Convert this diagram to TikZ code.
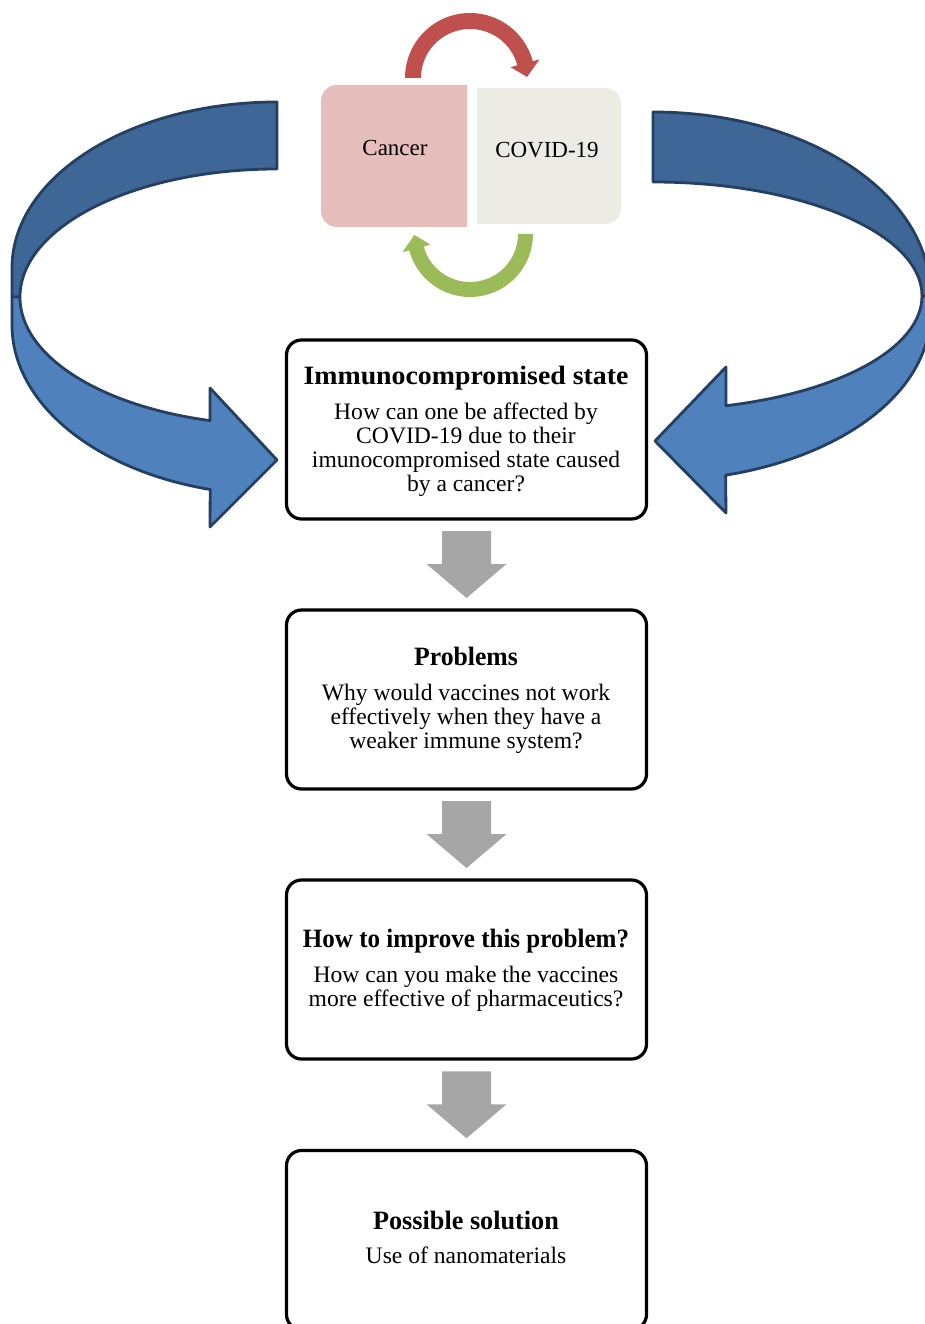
\documentclass[tikz,border=0pt]{standalone}
\usepackage{fontspec}
\usepackage{graphicx}
\setmainfont{Liberation Serif}
\usetikzlibrary{calc}
\definecolor{bluedark}{HTML}{3E6696}
\definecolor{bluelight}{HTML}{4F81BD}
\definecolor{blueline}{HTML}{243F60}
\definecolor{redarc}{HTML}{C0504D}
\definecolor{greenarc}{HTML}{9BBB59}
\definecolor{cancerfill}{HTML}{E6BEBC}
\definecolor{covidfill}{HTML}{ECECE4}
\definecolor{arrowgray}{HTML}{A6A6A6}
\begin{document}
\begin{tikzpicture}[x=1pt,y=-1pt,
  mainbox/.style={draw=black, line width=3.2pt, rounded corners=15pt,
    minimum width=360pt, minimum height=179pt, inner sep=0pt},
  headtext/.style={font=\fontsize{26.5}{30}\selectfont\bfseries,
    anchor=base, inner sep=0pt},
  bodytext/.style={font=\fontsize{23.6}{28}\selectfont,
    anchor=base, inner sep=0pt},
  labeltext/.style={font=\fontsize{23}{27}\selectfont,
    anchor=base, inner sep=0pt},
  blueband/.style={draw=blueline, line width=2.8pt, line join=round},
  grayarrow/.pic={\fill[arrowgray] (-24.5,-33.5) -- (24.5,-33.5) -- (24.5,-0.5)
     -- (40,-0.5) -- (0,33.5) -- (-40,-0.5) -- (-24.5,-0.5) -- cycle;}
]
\useasboundingbox (0,0) rectangle (924,1324);

% ---------- top: Cancer / COVID-19 ----------
\fill[cancerfill] (467,85) -- (337,85) arc[start angle=270,end angle=180,radius=16]
  -- (321,211) arc[start angle=180,end angle=90,radius=16] -- (467,227) -- cycle;
\fill[covidfill] (477,88) -- (605,88) arc[start angle=270,end angle=360,radius=16]
  -- (621,208) arc[start angle=0,end angle=90,radius=16] -- (477,224) -- cycle;
\node[labeltext] (cancer) at (395,156) {Cancer};
\node[labeltext] (covid) at (547,158) {COVID-19};

% red cycle arrow (top)
\begin{scope}[shift={(470,78)}]
\fill[redarc] (180:65) arc[start angle=180,end angle=345,radius=65]
  -- (345:72) -- (359:57) -- (345:42) -- (345:49)
  arc[start angle=345,end angle=180,radius=49] -- cycle;
\end{scope}
% green cycle arrow (bottom)
\begin{scope}[shift={(470,234)}]
\fill[greenarc] (0:63) arc[start angle=0,end angle=165,radius=63]
  -- (165:70) -- (179:55.5) -- (165:41) -- (165:48)
  arc[start angle=165,end angle=0,radius=48] -- cycle;
\end{scope}

% ---------- big blue curved arrows ----------
% left
\filldraw[blueband, fill=bluedark] (277,102)
  arc[start angle=270,end angle=180,x radius=265,y radius=166]
  -- (12,297) -- (20,297)
  arc[start angle=180,end angle=270,x radius=257,y radius=128] -- cycle;
\filldraw[blueband, fill=bluelight] (12,297) -- (12,325)
  arc[start angle=180,end angle=104.6,x radius=265,y radius=170]
  -- (210,527) -- (277,460) -- (210,388) -- (210,420.6)
  arc[start angle=105.1,end angle=180,x radius=257,y radius=128] -- cycle;
% right
\filldraw[blueband, fill=bluedark] (653,112)
  arc[start angle=270,end angle=360,x radius=277,y radius=181]
  -- (930,296) -- (922,296)
  arc[start angle=0,end angle=-90,x radius=269,y radius=114] -- cycle;
\filldraw[blueband, fill=bluelight] (930,296) -- (930,315)
  arc[start angle=0,end angle=74.8,x radius=277,y radius=166]
  -- (726,513) -- (655,441) -- (726,367) -- (726,405.7)
  arc[start angle=74.25,end angle=0,x radius=269,y radius=114] -- cycle;

% ---------- boxes ----------
\node[mainbox] (b1) at (466.5,429.5) {};
\node[mainbox] (b2) at (466.5,699.5) {};
\node[mainbox] (b3) at (466.5,969.5) {};
\node[mainbox] (b4) at (466.5,1240) {};

\node[headtext] (b1h) at (466,384) {\scalebox{1.05}[1]{Immunocompromised state}};
\node[bodytext] (b1a) at (466,419) {How can one be affected by};
\node[bodytext] (b1b) at (466,443) {COVID-19 due to their};
\node[bodytext] (b1c) at (466,467) {imunocompromised state caused};
\node[bodytext] (b1d) at (466,491) {by a cancer?};

\node[headtext] (b2h) at (466,665) {\scalebox{0.97}[1]{Problems}};
\node[bodytext] (b2a) at (466,700) {Why would vaccines not work};
\node[bodytext] (b2b) at (466,724) {effectively when they have a};
\node[bodytext] (b2c) at (466,748) {weaker immune system?};

\node[headtext] (b3h) at (466,947) {\scalebox{0.945}[1]{How to improve this problem?}};
\node[bodytext] (b3a) at (466,982) {How can you make the vaccines};
\node[bodytext] (b3b) at (466,1006) {more effective of pharmaceutics?};

\node[headtext] (b4h) at (466,1229) {\scalebox{0.99}[1]{Possible solution}};
\node[bodytext] (b4a) at (466,1263) {Use of nanomaterials};

% ---------- gray block arrows ----------
\pic at ($(b1.south)!0.5!(b2.north)$) {grayarrow};
\pic at ($(b2.south)!0.5!(b3.north)$) {grayarrow};
\pic at ($(b3.south)!0.5!(b4.north)$) {grayarrow};
\end{tikzpicture}
\end{document}
